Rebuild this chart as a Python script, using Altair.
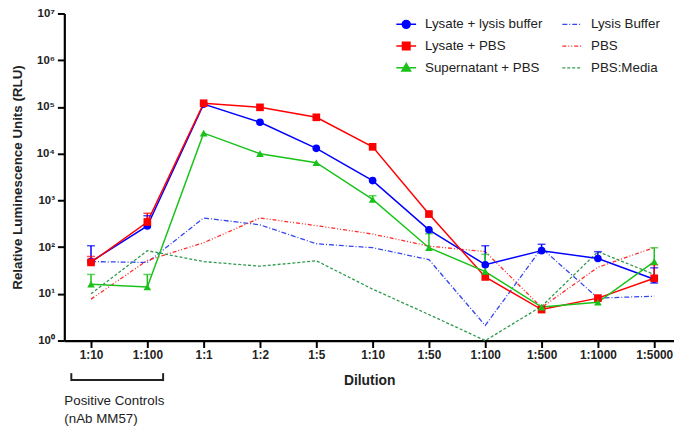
import json
import altair as alt
import pandas as pd

# ---------------- data ----------------
dilutions = ["1:10", "1:100", "1:1", "1:2", "1:5", "1:10", "1:50",
             "1:100", "1:500", "1:1000", "1:5000"]

series_solid = ["Lysate + lysis buffer", "Lysate + PBS", "Supernatant + PBS"]
series_dashed = ["Lysis Buffer", "PBS", "PBS:Media"]

lysate_lysis = [49, 283, 115000, 47000, 13000, 2650, 234, 42, 84, 57, 20.5]
lysate_pbs = [47, 345, 120000, 98000, 60000, 14000, 510, 23, 4.6, 8.1, 21.5]
super_pbs = [16, 14, 27500, 10000, 6400, 1050, 97, 30, 5.2, 6.6, 49]
lysis_buffer = [49, 47, 420, 300, 118, 97, 54, 2.1, 95, 8.1, 8.9]
pbs = [7.7, 52, 124, 420, 288, 190, 105, 80, 5.1, 37, 98]
pbs_media = [10, 84, 49, 39, 51, 12.6, 3.6, 1.0, 5.4, 80, 26]

N = None
lysate_lysis_hi = [107, 470, N, N, N, N, N, 107, 115, 80, 36]
lysate_lysis_lo = [N, N, N, N, N, N, N, N, N, N, 17]
lysate_pbs_hi = [63, 530, N, N, N, N, N, N, N, N, 42]
lysate_pbs_lo = [N] * 11
super_pbs_hi = [26, 26, N, N, N, 1260, 193, 70, N, N, 97]
super_pbs_lo = [N] * 11

values = {
    "Lysate + lysis buffer": lysate_lysis,
    "Lysate + PBS": lysate_pbs,
    "Supernatant + PBS": super_pbs,
    "Lysis Buffer": lysis_buffer,
    "PBS": pbs,
    "PBS:Media": pbs_media,
}
errors = {
    "Lysate + lysis buffer": (lysate_lysis_lo, lysate_lysis_hi),
    "Lysate + PBS": (lysate_pbs_lo, lysate_pbs_hi),
    "Supernatant + PBS": (super_pbs_lo, super_pbs_hi),
}

solid_colors = ["#0000ff", "#ff0000", "#19c219"]
dashed_colors = ["#3346f0", "#ff2a2a", "#2f9a4c"]
dash_patterns = [[5, 2, 1, 2], [4, 2, 1, 2, 1, 2], [3, 2]]
point_shapes = ["circle", "square", "triangle-up"]
legend_paths = [
    "M-1,0H1M-0.4,0A0.4,0.4,0,1,1,0.4,0A0.4,0.4,0,1,1,-0.4,0Z",
    "M-1,0H1M-0.38,-0.38H0.38V0.38H-0.38Z",
    "M-1,0H1M0,-0.44L0.44,0.32H-0.44Z",
]

rows = []
for s, vals in values.items():
    for i, v in enumerate(vals):
        rows.append({"series": s, "idx": i, "rlu": v})
df = pd.DataFrame(rows)

err_rows, cap_rows = [], []
for s, (lo, hi) in errors.items():
    for i in range(len(dilutions)):
        if hi[i] is None:
            continue
        base = lo[i] if lo[i] is not None else values[s][i]
        err_rows.append({"series": s, "idx": i, "rlu": base, "hi": hi[i]})
        cap_rows.append({"series": s, "idx": i, "rlu": hi[i]})
        if lo[i] is not None:
            cap_rows.append({"series": s, "idx": i, "rlu": lo[i]})
err_df = pd.DataFrame(err_rows)
cap_df = pd.DataFrame(cap_rows)

controls = [0, 1]  # indexes of the positive-control dilutions
bracket_df = pd.DataFrame({"idx": [controls[0] - 0.35], "idx2": [controls[-1] + 0.28]})
bracket_ends = pd.DataFrame({"idx": [controls[0] - 0.35, controls[-1] + 0.28]})

# ---------------- encodings ----------------
FONT = "Liberation Sans"
label_js = json.dumps(dilutions)
sup = json.dumps(["\u2070", "\u00b9", "\u00b2", "\u00b3", "\u2074", "\u2075", "\u2076", "\u2077"])

x_enc = alt.X(
    "idx:Q",
    scale=alt.Scale(domain=[-0.474, 10.351], nice=False, zero=False),
    axis=alt.Axis(
        values=list(range(len(dilutions))),
        labelExpr=f"{label_js}[datum.value]",
        title="Dilution",
        grid=False,
        domainColor="black", domainWidth=2.2,
        tickColor="black", tickWidth=2, tickSize=7,
        labelFont=FONT, labelFontSize=12, labelFontWeight="bold", labelColor="#222",
        labelPadding=2,
        titleFont=FONT, titleFontSize=14, titleFontWeight="bold", titleColor="#222",
        titleY=40, titleBaseline="middle",
    ),
)
y_enc = alt.Y(
    "rlu:Q",
    scale=alt.Scale(type="log", domain=[1, 1e7], nice=False),
    axis=alt.Axis(
        values=[10 ** k for k in range(8)],
        labelExpr=f"'10' + {sup}[round(log(datum.value) / LN10)]",
        title="Relative Luminescence Units (RLU)",
        grid=False,
        domainColor="black", domainWidth=2.2,
        tickColor="black", tickWidth=2, tickSize=7,
        labelFont=FONT, labelFontSize=11.5, labelFontWeight="bold", labelColor="#222",
        labelPadding=3,
        titleFont=FONT, titleFontSize=13.5, titleFontWeight="bold", titleColor="#222",
        titleX=-47, titleY=165.5, titleBaseline="middle", titleAngle=-90,
    ),
)

legend_common = dict(
    title=None, orient="none", padding=0,
    labelFont=FONT, labelFontSize=13.5, labelColor="#222",
    symbolSize=400, rowPadding=4, labelOffset=8,
)

# dashed controls
dashed = alt.Chart(df).transform_filter(
    alt.FieldOneOfPredicate(field="series", oneOf=series_dashed)
).mark_line(strokeWidth=1.3).encode(
    x=x_enc, y=y_enc,
    color=alt.Color("series:N", scale=alt.Scale(domain=series_dashed, range=dashed_colors),
                    legend=alt.Legend(legendX=503, legendY=0, symbolType="stroke",
                                      symbolStrokeWidth=1.3, **legend_common)),
    strokeDash=alt.StrokeDash("series:N", scale=alt.Scale(domain=series_dashed, range=dash_patterns),
                              legend=alt.Legend(legendX=503, legendY=0, symbolType="stroke",
                                                symbolStrokeWidth=1.3, **legend_common)),
)

solid = alt.Chart(df).transform_filter(
    alt.FieldOneOfPredicate(field="series", oneOf=series_solid)
).mark_line(strokeWidth=1.5).encode(
    x=x_enc, y=y_enc,
    color=alt.Color("series:N", scale=alt.Scale(domain=series_solid, range=solid_colors), legend=None),
)

err_rule = alt.Chart(err_df).mark_rule(strokeWidth=1.5).encode(
    x=x_enc, y=y_enc, y2=alt.Y2("hi:Q"),
    color=alt.Color("series:N", scale=alt.Scale(domain=series_solid, range=solid_colors), legend=None),
)
err_cap = alt.Chart(cap_df).mark_tick(orient="horizontal", size=8, thickness=1.5).encode(
    x=x_enc, y=y_enc,
    color=alt.Color("series:N", scale=alt.Scale(domain=series_solid, range=solid_colors), legend=None),
)

points = alt.Chart(df).transform_filter(
    alt.FieldOneOfPredicate(field="series", oneOf=series_solid)
).mark_point(filled=True, size=60, opacity=1).encode(
    x=x_enc, y=y_enc,
    color=alt.Color("series:N", scale=alt.Scale(domain=series_solid, range=solid_colors), legend=None),
    shape=alt.Shape("series:N", scale=alt.Scale(domain=series_solid, range=point_shapes), legend=None),
)

solid_legend_props = dict(legendX=335, legendY=0, symbolStrokeWidth=1.5, **legend_common)
legend_layer = alt.Chart(df).transform_filter("false").mark_point(filled=True, opacity=1).encode(
    x=x_enc, y=y_enc,
    color=alt.Color("series:N", scale=alt.Scale(domain=series_solid, range=solid_colors),
                    legend=alt.Legend(**solid_legend_props)),
    stroke=alt.Stroke("series:N", scale=alt.Scale(domain=series_solid, range=solid_colors),
                      legend=alt.Legend(**solid_legend_props)),
    shape=alt.Shape("series:N", scale=alt.Scale(domain=series_solid, range=legend_paths),
                    legend=alt.Legend(**solid_legend_props)),
)

bracket = alt.Chart(bracket_df).mark_rule(color="#222", strokeWidth=2).encode(
    x=x_enc, x2=alt.X2("idx2:Q"), y=alt.value(371),
)
bracket_v = alt.Chart(bracket_ends).mark_rule(color="#222", strokeWidth=2).encode(
    x=x_enc, y=alt.value(364), y2=alt.value(372),
)
note = alt.Chart(bracket_df).mark_text(
    align="left", baseline="alphabetic", font=FONT, fontSize=13.5, color="#222", lineHeight=18,
).encode(
    x=alt.value(0), y=alt.value(396),
    text=alt.value(["Positive Controls", "(nAb MM57)"]),
)

chart = alt.layer(
    dashed, solid, err_rule, err_cap, points, legend_layer, bracket, bracket_v, note
).resolve_scale(
    color="independent", shape="independent", stroke="independent", strokeDash="independent"
).properties(
    width=617, height=331,
    autosize=alt.AutoSizeParams(type="none"),
    padding={"left": 57, "top": 3, "right": 0, "bottom": 91},
    background="white",
).configure_view(stroke=None)

chart.save("out.html", embed_options={"renderer": "svg", "actions": False})
